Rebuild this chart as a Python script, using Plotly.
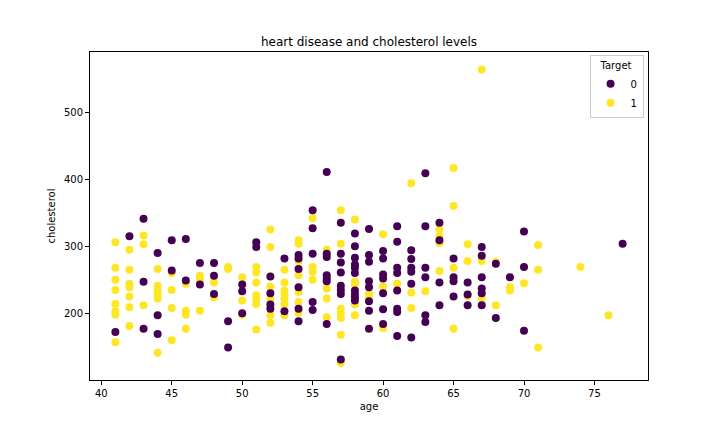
import plotly.graph_objects as go

# Target 0 (no disease) points
age0 = [41,
        42,
        43, 43, 43,
        44, 44, 44,
        45, 45,
        46, 46,
        47, 47,
        48, 48, 48,
        49, 49,
        50, 50, 50,
        51, 51,
        52, 52, 52, 52,
        53, 53,
        54, 54, 54, 54, 54, 54,
        55, 55, 55, 55, 55,
        56, 56, 56, 56, 56, 56, 56,
        57, 57, 57, 57, 57, 57, 57, 57,
        58, 58, 58, 58, 58, 58, 58, 58, 58, 58,
        59, 59, 59, 59, 59, 59, 59, 59,
        60, 60, 60, 60, 60, 60, 60,
        61, 61, 61, 61, 61, 61, 61, 61,
        62, 62, 62, 62, 62, 62,
        63, 63, 63, 63, 63, 63,
        64, 64, 64, 64,
        65, 65, 65, 65,
        66, 66, 66,
        67, 67, 67, 67, 67, 67,
        68, 68,
        69,
        70, 70, 70,
        77]
chol0 = [172,
         315,
         341, 247, 177,
         290, 197, 169,
         309, 264,
         311, 249,
         275, 243,
         275, 256, 229,
         188, 149,
         243, 233, 200,
         306, 299,
         255, 230, 213, 207,
         282, 203,
         287, 282, 266, 239, 207, 188,
         354, 327, 289, 217, 205,
         411, 289, 284, 257, 252, 248, 184,
         335, 289, 276, 261, 241, 235, 229, 131,
         319, 300, 283, 273, 268, 260, 234, 229, 224, 219,
         326, 287, 277, 248, 239, 218, 204, 177,
         293, 282, 258, 252, 230, 206, 184,
         330, 307, 268, 260, 234, 207, 202, 166,
         294, 281, 268, 262, 244, 164,
         409, 330, 268, 254, 197, 187,
         335, 309, 246, 212,
         282, 254, 248, 225,
         246, 228, 212,
         299, 286, 254, 237, 230, 212,
         274, 193,
         254,
         322, 269, 174,
         304]

# Target 1 (disease) points
age1 = [41, 41, 41, 41, 41, 41, 41, 41,
        42, 42, 42, 42, 42, 42, 42,
        43, 43, 43,
        44, 44, 44, 44, 44, 44,
        45, 45, 45, 45,
        46, 46, 46, 46,
        47, 47, 47,
        48, 48,
        49, 49,
        50, 50, 50,
        51, 51, 51, 51, 51, 51, 51,
        52, 52, 52, 52, 52, 52,
        53, 53, 53, 53, 53, 53, 53,
        54, 54, 54, 54, 54, 54, 54,
        55, 55, 55, 55,
        56, 56, 56, 56,
        57, 57, 57, 57, 57, 57, 57,
        58, 58, 58, 58, 58,
        59, 59,
        60, 60, 60,
        61,
        62, 62, 62,
        63,
        64, 64, 64, 64,
        65, 65, 65, 65,
        66, 66, 66,
        67, 67, 67,
        68, 68,
        69, 69,
        70,
        71, 71, 71,
        74,
        76]
chol1 = [306, 268, 250, 235, 214, 203, 198, 157,
         295, 265, 244, 239, 225, 209, 181,
         316, 303, 212,
         266, 241, 235, 229, 222, 141,
         260, 235, 208, 160,
         244, 204, 198, 177,
         256, 250, 204,
         246, 224,
         269, 266,
         254, 219, 198,
         269, 261, 246, 227, 222, 214, 176,
         325, 299, 240, 222, 197, 186,
         265, 246, 234, 228, 222, 214, 197,
         309, 304, 278, 257, 232, 217, 201,
         342, 269, 262, 250,
         295, 237, 222, 194,
         354, 304, 207, 200, 193, 168, 126,
         340, 247, 244, 213, 197,
         229, 222,
         318, 240, 178,
         244,
         394, 231, 208,
         233,
         325, 315, 305, 263,
         417, 360, 268, 177,
         303, 278, 226,
         564, 278, 223,
         277, 212,
         239, 234,
         245,
         302, 265, 149,
         269,
         197]

x_ticks = [40, 45, 50, 55, 60, 65, 70, 75]
y_ticks = [200, 300, 400, 500]

FONT = "DejaVu Sans"

fig = go.Figure()
fig.add_trace(go.Scatter(
    x=age1, y=chol1, mode="markers", name="1", legendrank=2,
    marker=dict(color="#fde725", size=8, line=dict(width=0)),
))
fig.add_trace(go.Scatter(
    x=age0, y=chol0, mode="markers", name="0", legendrank=1,
    marker=dict(color="#440154", size=8, line=dict(width=0)),
))

axis_common = dict(
    showgrid=False, zeroline=False, showline=True, linecolor="black",
    linewidth=1, mirror=True, ticks="outside", ticklen=4, tickwidth=1,
    tickcolor="black", tickfont=dict(family=FONT, size=10, color="black"),
    automargin=False,
)

# The page body adds an 8px offset; margins compensate so the axes sit at 90..648 x 52..380
fig.update_layout(
    width=720, height=432,
    margin=dict(l=82, r=80, t=44, b=60, autoexpand=False),
    paper_bgcolor="white", plot_bgcolor="white",
    font=dict(family=FONT, size=10, color="black"),
    title=dict(text="heart disease and cholesterol levels", x=0.5, xanchor="center",
               xref="paper", yref="paper", y=1.0, yanchor="bottom",
               pad=dict(b=6), font=dict(family=FONT, size=12, color="black")),
    xaxis=dict(range=[39.2, 78.8], tickvals=x_ticks,
               title=dict(text="age", standoff=4, font=dict(family=FONT, size=10)),
               **axis_common),
    yaxis=dict(range=[100.5, 590], tickvals=y_ticks,
               title=dict(text="cholesterol", standoff=6, font=dict(family=FONT, size=10)),
               **axis_common),
    legend=dict(title=dict(text="Target", side="top center", font=dict(family=FONT, size=10)),
                x=0.992, y=0.99, xanchor="right", yanchor="top",
                bgcolor="white", bordercolor="#cccccc", borderwidth=1,
                font=dict(family=FONT, size=10), itemwidth=30, tracegroupgap=0),
    showlegend=True,
)

fig.write_html("out.html")
